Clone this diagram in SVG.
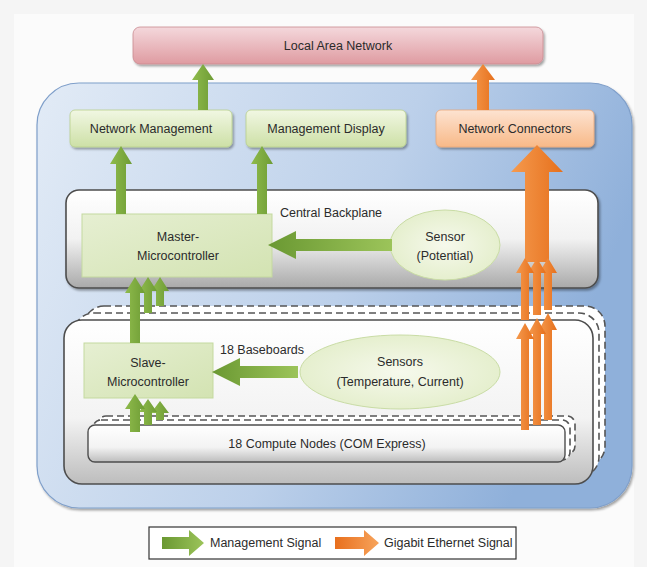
<svg xmlns="http://www.w3.org/2000/svg" width="647" height="567" viewBox="0 0 647 567">
<defs>
<style>
text{font-family:"Liberation Sans","Noto Sans",Arial,sans-serif;font-size:12.5px;fill:#2b2b2b;text-anchor:middle}
.green{fill:url(#gArrow)}
.orange{fill:url(#oArrow)}
.dash{fill:#fff;stroke:#555;stroke-width:1.6;stroke-dasharray:7 4}
</style>
<linearGradient id="bg" x1="0" y1="0" x2="1" y2="0"><stop offset="0" stop-color="#e9e9e9"/><stop offset="0.5" stop-color="#f4f4f4"/><stop offset="1" stop-color="#ececec"/></linearGradient>
<linearGradient id="lan" x1="0" y1="0" x2="0" y2="1"><stop offset="0" stop-color="#f4d8dc"/><stop offset="1" stop-color="#df9ba1"/></linearGradient>
<linearGradient id="blue" x1="0" y1="0" x2="1" y2="0.3"><stop offset="0" stop-color="#e2ebf6"/><stop offset="0.6" stop-color="#bcd0ea"/><stop offset="1" stop-color="#8fb0da"/></linearGradient>
<linearGradient id="gBox" x1="0" y1="0" x2="0" y2="1"><stop offset="0" stop-color="#f1f7e3"/><stop offset="1" stop-color="#cde0a6"/></linearGradient>
<linearGradient id="oBox" x1="0" y1="0" x2="0" y2="1"><stop offset="0" stop-color="#fde3d1"/><stop offset="1" stop-color="#f8b988"/></linearGradient>
<linearGradient id="gray" x1="0" y1="0" x2="0" y2="1"><stop offset="0" stop-color="#ffffff"/><stop offset="0.5" stop-color="#f2f2f2"/><stop offset="1" stop-color="#a9a9a9"/></linearGradient>
<linearGradient id="gray2" x1="0" y1="0" x2="0" y2="1"><stop offset="0" stop-color="#ffffff"/><stop offset="0.6" stop-color="#f3f3f3"/><stop offset="1" stop-color="#bdbdbd"/></linearGradient>
<linearGradient id="mc" x1="0" y1="0" x2="1" y2="1"><stop offset="0" stop-color="#e6efd2"/><stop offset="1" stop-color="#d3e3b2"/></linearGradient>
<radialGradient id="ell" cx="0.5" cy="0.5" r="0.6"><stop offset="0" stop-color="#f6f9ec"/><stop offset="1" stop-color="#e2edc8"/></radialGradient>
<linearGradient id="gArrow" x1="0" y1="0" x2="1" y2="0"><stop offset="0" stop-color="#8fbb4c"/><stop offset="1" stop-color="#6e9c35"/></linearGradient>
<linearGradient id="oArrow" x1="0" y1="0" x2="1" y2="0"><stop offset="0" stop-color="#f59a4e"/><stop offset="1" stop-color="#e6701c"/></linearGradient>
<linearGradient id="gArrowH" x1="0" y1="0" x2="1" y2="0"><stop offset="0" stop-color="#6a9832"/><stop offset="1" stop-color="#9cc45a"/></linearGradient>
<linearGradient id="oArrowH" x1="0" y1="0" x2="1" y2="0"><stop offset="0" stop-color="#e86f1d"/><stop offset="1" stop-color="#f7a45c"/></linearGradient>
<filter id="sh" x="-5%" y="-10%" width="115%" height="130%"><feDropShadow dx="1.5" dy="2" stdDeviation="1.2" flood-color="#000" flood-opacity="0.35"/></filter>
</defs>

<rect x="0" y="0" width="647" height="567" fill="#f5f5f5"/>
<rect x="14" y="14" width="620" height="553" fill="#fbfbfb"/>

<g id="lan-node">
<rect x="133" y="27" width="410" height="37" rx="7" fill="url(#lan)" stroke="#c98a90" stroke-width="0.8" filter="url(#sh)"/>
<text x="338" y="50">Local Area Network</text>
</g>

<g id="chassis">
<rect x="37" y="83" width="595" height="425" rx="42" fill="url(#blue)" stroke="#7f9fca" stroke-width="1.2" filter="url(#sh)"/>
</g>

<g id="network-management">
<rect x="70" y="110" width="162" height="37" rx="5" fill="url(#gBox)" stroke="#b7cf8c" stroke-width="0.8" filter="url(#sh)"/>
<text x="151" y="133">Network Management</text>
</g>
<g id="management-display">
<rect x="246" y="110" width="160" height="37" rx="5" fill="url(#gBox)" stroke="#b7cf8c" stroke-width="0.8" filter="url(#sh)"/>
<text x="326" y="133">Management Display</text>
</g>
<g id="network-connectors">
<rect x="436" y="110" width="158" height="37" rx="5" fill="url(#oBox)" stroke="#e8a77a" stroke-width="0.8" filter="url(#sh)"/>
<text x="515" y="133">Network Connectors</text>
</g>

<g id="central-backplane">
<rect x="66" y="190" width="532" height="98" rx="13" fill="url(#gray)" stroke="#4d4d4d" stroke-width="1.6" filter="url(#sh)"/>
<text x="331" y="217">Central Backplane</text>
</g>
<g id="master-microcontroller">
<rect x="82" y="214" width="190" height="63" fill="url(#mc)" stroke="#c4d99f" stroke-width="1"/>
<text x="178" y="241">Master-</text>
<text x="178" y="260">Microcontroller</text>
</g>
<g id="sensor-potential">
<ellipse cx="445" cy="245" rx="55" ry="35" fill="url(#ell)" stroke="#c9dca5" stroke-width="1"/>
<text x="445" y="241">Sensor</text>
<text x="445" y="260">(Potential)</text>
</g>

<g id="baseboards">
<rect x="84" y="306" width="521" height="160" rx="20" class="dash"/>
<rect x="74" y="313" width="525" height="164" rx="20" class="dash"/>
<rect x="64" y="320" width="529" height="164" rx="18" fill="url(#gray2)" stroke="#4d4d4d" stroke-width="1.6"/>
<text x="262" y="354">18 Baseboards</text>
</g>
<g id="slave-microcontroller">
<rect x="84" y="343" width="129" height="55" fill="url(#mc)" stroke="#c4d99f" stroke-width="1"/>
<text x="148" y="367">Slave-</text>
<text x="148" y="386">Microcontroller</text>
</g>
<g id="sensors">
<ellipse cx="400" cy="372" rx="100" ry="37" fill="url(#ell)" stroke="#c9dca5" stroke-width="1"/>
<text x="400" y="366">Sensors</text>
<text x="400" y="386">(Temperature, Current)</text>
</g>
<g id="compute-nodes">
<rect x="98" y="416" width="477" height="38" rx="8" class="dash"/>
<rect x="93" y="420" width="477" height="40" rx="8" class="dash"/>
<rect x="88" y="425" width="477" height="37" rx="7" fill="url(#gray2)" stroke="#4d4d4d" stroke-width="1.4"/>
<text x="327" y="448">18 Compute Nodes (COM Express)</text>
</g>

<g id="connectors">
<!-- green vertical arrows -->
<path class="green" d="M203,64 L214,80 L208,80 L208,110 L198,110 L198,80 L192,80 Z"/>
<path class="green" d="M121,146 L132,164 L126,164 L126,214 L116,214 L116,164 L110,164 Z"/>
<path class="green" d="M262,146 L273,164 L267,164 L267,214 L257,214 L257,164 L251,164 Z"/>
<!-- sensor -> master -->
<path fill="url(#gArrowH)" d="M268,245 L296,231 L296,239 L392,239 L392,251 L296,251 L296,259 Z"/>
<!-- slave -> master triple -->
<path class="green" d="M160,277 L169,291 L164,291 L164,306 L156,306 L156,291 L151,291 Z"/>
<path class="green" d="M148,277 L157,291 L152,291 L152,313 L144,313 L144,291 L139,291 Z"/>
<path class="green" d="M135,277 L145,293 L140,293 L140,343 L130,343 L130,293 L125,293 Z"/>
<!-- sensors -> slave -->
<path fill="url(#gArrowH)" d="M212,372 L240,358 L240,366 L298,366 L298,378 L240,378 L240,386 Z"/>
<!-- compute -> slave triple -->
<path class="green" d="M160,401 L169,413 L164,413 L164,420 L156,420 L156,413 L151,413 Z"/>
<path class="green" d="M148,399 L157,412 L152,412 L152,425 L144,425 L144,412 L139,412 Z"/>
<path class="green" d="M135,394 L145,409 L140,409 L140,432 L130,432 L130,409 L125,409 Z"/>

<!-- orange -->
<path class="orange" d="M483,64 L495,80 L489,80 L489,110 L477,110 L477,80 L471,80 Z"/>
<path class="orange" d="M537,145 L563,172 L549,172 L549,262 L525,262 L525,172 L511,172 Z"/>
<path class="orange" d="M548,258 L557,273 L552,273 L552,310 L544,310 L544,273 L539,273 Z"/>
<path class="orange" d="M537,258 L546,273 L541,273 L541,315 L533,315 L533,273 L528,273 Z"/>
<path class="orange" d="M525,258 L534,273 L529,273 L529,320 L521,320 L521,273 L516,273 Z"/>
<path class="orange" d="M548,313 L557,330 L552,330 L552,420 L544,420 L544,330 L539,330 Z"/>
<path class="orange" d="M537,318 L546,334 L541,334 L541,425 L533,425 L533,334 L528,334 Z"/>
<path class="orange" d="M525,323 L534,339 L529,339 L529,430 L521,430 L521,339 L516,339 Z"/>
</g>

<g id="legend">
<rect x="149" y="527" width="367" height="32" fill="#fff" stroke="#333" stroke-width="1.2"/>
<path fill="url(#gArrowH)" d="M162,537 L189,537 L189,530 L204,543 L189,556 L189,549 L162,549 Z"/>
<text x="210" y="547" style="text-anchor:start">Management Signal</text>
<path fill="url(#oArrowH)" d="M335,537 L364,537 L364,530 L379,543 L364,556 L364,549 L335,549 Z"/>
<text x="384" y="547" style="text-anchor:start">Gigabit Ethernet Signal</text>
</g>
</svg>
